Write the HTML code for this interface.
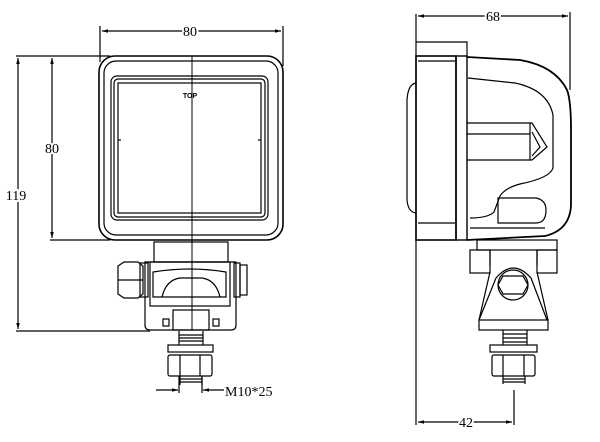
<!DOCTYPE html>
<html><head><style>
html,body{margin:0;padding:0;background:#fff;width:600px;height:442px;overflow:hidden}
svg{display:block}
text{font-family:"Liberation Serif",serif;fill:#000}
</style></head><body>
<svg width="600" height="442" viewBox="0 0 600 442" xmlns="http://www.w3.org/2000/svg">
<defs>
<marker id="a" viewBox="0 0 10 10" refX="10" refY="5" markerWidth="7" markerHeight="5" orient="auto-start-reverse"><path d="M0,2 L10,5 L0,8z" fill="#000"/></marker>
</defs>
<g fill="none" stroke="#000" stroke-width="1.2">
<!-- LEFT VIEW dims -->
<line x1="100" y1="26" x2="100" y2="62"/><line x1="283" y1="26" x2="283" y2="66"/>
<line x1="102" y1="31" x2="281" y2="31" marker-start="url(#a)" marker-end="url(#a)"/>
<line x1="16" y1="56" x2="110" y2="56"/>
<line x1="18" y1="58" x2="18" y2="329" marker-start="url(#a)" marker-end="url(#a)"/>
<line x1="52" y1="58" x2="52" y2="238" marker-start="url(#a)" marker-end="url(#a)"/>
<line x1="50" y1="240" x2="110" y2="240"/>
<line x1="16" y1="331" x2="150" y2="331"/>
<!-- housing -->
<rect x="99" y="56" width="184" height="184" rx="16" stroke-width="1.6"/>
<rect x="104" y="61" width="174" height="174" rx="12"/>
<rect x="111" y="76" width="157" height="144" rx="6"/>
<rect x="114" y="79" width="151" height="138" rx="4"/>
<rect x="118" y="83" width="143" height="130"/>
<line x1="118" y1="140" x2="121" y2="140"/><line x1="258" y1="140" x2="261" y2="140"/>
<line x1="192" y1="56" x2="192" y2="330" stroke-width="1"/>
<!-- bracket -->
<rect x="154" y="242" width="74" height="20"/>
<path d="M145 262 H236 V325 Q236 330 231 330 H150 Q145 330 145 325 Z"/>
<rect x="150" y="262" width="80" height="44"/>
<path d="M153 272 Q190 266 226 272 V297 H153 Z"/>
<path d="M162 297 Q166 280 180 278 H202 Q216 280 220 297"/>
<rect x="140" y="263" width="8" height="34"/>
<path d="M118 266 L124 262 H138 L143 266 V294 L138 298 H124 L118 294 Z"/>
<line x1="118" y1="280" x2="143" y2="280"/>
<rect x="234" y="263" width="6" height="34"/>
<rect x="240" y="265" width="7" height="30"/>
<rect x="173" y="310" width="36" height="20"/>
<rect x="163" y="319" width="6" height="7"/><rect x="213" y="319" width="6" height="7"/>
<!-- bolt left -->
<path d="M179 331 V345 M203 331 V345 M179 335 H203 M179 338 H203 M179 341 H203"/>
<rect x="168" y="345" width="45" height="7"/>
<rect x="168" y="355" width="44" height="21" rx="2"/>
<line x1="180" y1="355" x2="180" y2="376"/><line x1="200" y1="355" x2="200" y2="376"/>
<path d="M180 376 V385 M202 376 V385 M180 379 H202 M180 382 H202"/>
<line x1="179" y1="376" x2="179" y2="393"/><line x1="202" y1="376" x2="202" y2="393"/>
<line x1="156" y1="390" x2="178" y2="390" marker-end="url(#a)"/>
<line x1="224" y1="390" x2="203" y2="390" marker-end="url(#a)"/>

<!-- RIGHT VIEW -->
<line x1="416" y1="14" x2="416" y2="425"/><line x1="570" y1="12" x2="570" y2="90"/>
<line x1="418" y1="16" x2="568" y2="16" marker-start="url(#a)" marker-end="url(#a)"/>
<path d="M416 42 H467 V56"/>
<path d="M416 83 Q408 84 407 100 V200 Q408 212 416 213"/>
<rect x="416" y="56" width="40" height="184" stroke-width="1.6"/>
<line x1="418" y1="61" x2="455" y2="61"/><line x1="418" y1="223" x2="455" y2="223"/>
<rect x="456" y="56" width="11" height="184" stroke-width="1.4"/>
<path d="M467 57 L520 60 Q555 66 567 90 Q571 100 571 130 V205 Q570 230 545 236 L467 240" stroke-width="1.8"/>
<path d="M468 78 L515 83 Q548 90 553 115 V168 Q550 178 520 184 Q505 188 500 196 L494 212 Q488 218 470 218"/>
<path d="M467 123 H532 L547 147 L532 160 H467"/>
<path d="M467 134 H530 M530 123 V160 M532 132 L540 147 L532 156"/>
<path d="M498 223 V198 H536 Q546 200 546 210 Q546 223 536 223 Z"/>
<line x1="470" y1="228" x2="545" y2="228"/>
<!-- bracket right -->
<rect x="477" y="240" width="80" height="10"/>
<rect x="470" y="250" width="20" height="23"/><rect x="537" y="250" width="20" height="23"/>
<path d="M490 250 V265 M537 250 V265"/>
<path d="M490 272 L479 320 M537 272 L548 320"/>
<path d="M496 278 Q513 258 531 278 L547 320"/>
<path d="M496 278 L479 320"/>
<rect x="479" y="320" width="69" height="10"/>
<circle cx="513" cy="285" r="15"/>
<path d="M503 276 L523 276 L528 285 L523 294 L503 294 L498 285 Z"/>
<!-- bolt right -->
<path d="M503 330 V345 M527 330 V345 M503 334 H527 M503 338 H527 M503 342 H527"/>
<rect x="490" y="345" width="47" height="7"/>
<rect x="492" y="355" width="43" height="21" rx="2"/>
<line x1="503" y1="355" x2="503" y2="376"/><line x1="524" y1="355" x2="524" y2="376"/>
<path d="M503 376 V384 M525 376 V384 M503 379 H525 M503 382 H525"/>
<line x1="514" y1="390" x2="514" y2="425"/>
<line x1="418" y1="422" x2="512" y2="422" marker-start="url(#a)" marker-end="url(#a)"/>
</g>
<g font-size="14">
<text x="190" y="36" text-anchor="middle" style="paint-order:stroke" stroke="#fff" stroke-width="4">80</text>
<text x="52" y="153" text-anchor="middle" style="paint-order:stroke" stroke="#fff" stroke-width="4">80</text>
<text x="16" y="200" text-anchor="middle" style="paint-order:stroke" stroke="#fff" stroke-width="4">119</text>
<text x="493" y="21" text-anchor="middle" style="paint-order:stroke" stroke="#fff" stroke-width="4">68</text>
<text x="466" y="427" text-anchor="middle" style="paint-order:stroke" stroke="#fff" stroke-width="4">42</text>
<text x="225" y="396">M10*25</text>
</g>
<text x="190" y="98" text-anchor="middle" font-size="7" font-weight="bold" style="font-family:'Liberation Sans',sans-serif">TOP</text>
</svg>
</body></html>
